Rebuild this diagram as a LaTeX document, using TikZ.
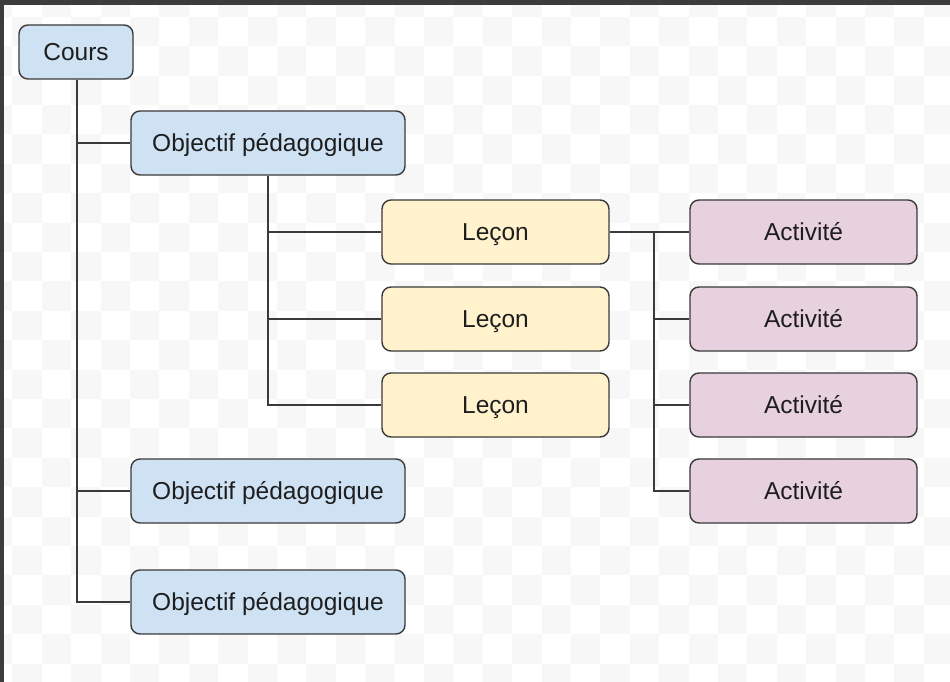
\documentclass[tikz,border=0pt]{standalone}
\usepackage{fontspec}
\setmainfont{Liberation Sans}
\definecolor{objblue}{HTML}{CFE2F3}
\definecolor{lecyellow}{HTML}{FFF2CC}
\definecolor{actpink}{HTML}{E8D1DE}
\definecolor{edgegray}{HTML}{3A3A3A}
\definecolor{textgray}{HTML}{1E1E1E}
\definecolor{checkgray}{HTML}{F7F7F7}
\definecolor{framegray}{HTML}{3C3C3C}
\tikzset{
  box/.style={draw=edgegray, line width=1.4pt, rounded corners=9pt, anchor=center,
    minimum height=64pt, text=textgray, font=\fontsize{24.5}{29}\selectfont, inner sep=0pt,
    text height=17.6pt, text depth=0pt},
  coursbox/.style={box, fill=objblue, minimum width=114pt, minimum height=54pt},
  objbox/.style={box, fill=objblue, minimum width=274pt},
  lecbox/.style={box, fill=lecyellow, minimum width=227pt},
  actbox/.style={box, fill=actpink, minimum width=227pt},
  link/.style={draw=edgegray, line width=1.4pt}
}
\begin{document}
\begin{tikzpicture}[x=1pt,y=-1pt]
\useasboundingbox (0,0) rectangle (950,682);
\fill[white] (0,0) rectangle (950,682);
\begin{scope}
\clip (0,0) rectangle (950,682);
\foreach \i in {-1,...,32}{
  \foreach \j in {-1,...,23}{
    \pgfmathtruncatemacro\cpar{mod(\i+\j+100,2)}
    \ifnum\cpar=0
      \fill[checkgray] ({12.4+29.4*\i},{16.8+29.4*\j}) rectangle ++(29.4,29.4);
    \fi
  }
}
\end{scope}
\fill[framegray] (0,0) rectangle (950,5);
\fill[framegray] (0,0) rectangle (4,682);

\node[coursbox] (cours) at (76,52) {Cours};
\node[objbox] (obj1) at (268,143) {Objectif pédagogique};
\node[objbox] (obj2) at (268,491) {Objectif pédagogique};
\node[objbox] (obj3) at (268,602) {Objectif pédagogique};
\node[lecbox] (lec1) at (495.5,232) {Leçon};
\node[lecbox] (lec2) at (495.5,319) {Leçon};
\node[lecbox] (lec3) at (495.5,405) {Leçon};
\node[actbox] (act1) at (803.5,232) {Activité};
\node[actbox] (act2) at (803.5,319) {Activité};
\node[actbox] (act3) at (803.5,405) {Activité};
\node[actbox] (act4) at (803.5,491) {Activité};

\coordinate (ct) at (77,0);
\coordinate (ot) at (268,0);
\coordinate (lt) at (654,232);

\draw[link] (cours.south -| ct) -- (ct |- obj3.west) -- (obj3.west);
\draw[link] (ct |- obj1.west) -- (obj1.west);
\draw[link] (ct |- obj2.west) -- (obj2.west);

\draw[link] (obj1.south -| ot) -- (ot |- lec3.west) -- (lec3.west);
\draw[link] (ot |- lec1.west) -- (lec1.west);
\draw[link] (ot |- lec2.west) -- (lec2.west);

\draw[link] (lec1.east) -- (act1.west);
\draw[link] (lt) -- (lt |- act4.west) -- (act4.west);
\draw[link] (lt |- act2.west) -- (act2.west);
\draw[link] (lt |- act3.west) -- (act3.west);
\end{tikzpicture}
\end{document}
